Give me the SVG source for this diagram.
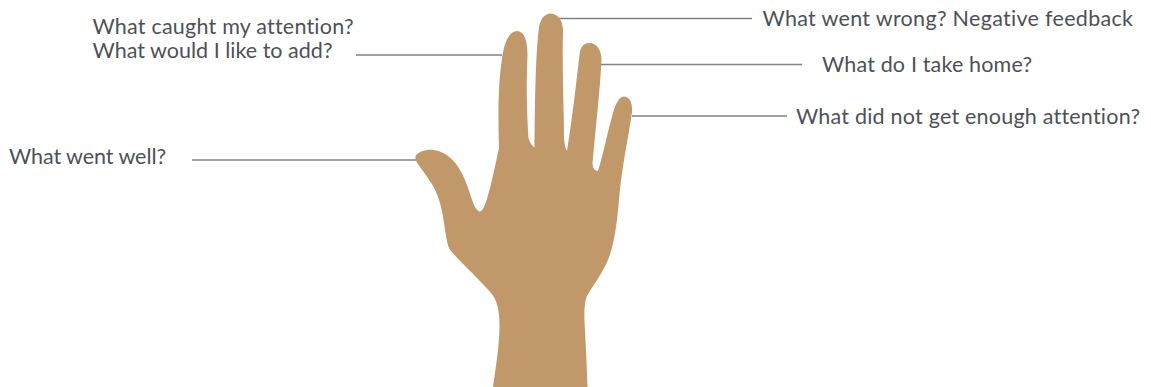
<svg xmlns="http://www.w3.org/2000/svg" width="1151" height="387" viewBox="0 0 1151 387">
<style>
.l{stroke:#7f8285;stroke-width:1.3;fill:none}
text{font-family:"Lato","Noto Sans",sans-serif;font-size:21.5px;fill:#4d5156;font-variant-ligatures:none}
</style>
<rect width="1151" height="387" fill="#fff"/>
<g id="connectors">
<path class="l" d="M356 55H502"/>
<path class="l" d="M559 18.500H752"/>
<path class="l" d="M600 64.500H802"/>
<path class="l" d="M632 116H787"/>
<path class="l" d="M192 160H417"/>
</g>
<g id="hand"><path fill="#c1986a" d="M415.500 156C419 151 427 149 434 150C448 152 458 163 465 180C471 194 474 211 480 211.500C486 211 492 180 499 148C498 110 498 85 502.500 55C505 40 510 31 517 31C524 31 527.500 40 527.500 55C526 85 527 115 528.500 138C530 143 532 146 534.500 147.500C535 110 535 60 539 27C541 17 546 13.500 551 13.500C558 14 562.500 20 563 30C562 70 564 110 564 138C564.500 144 565.500 149 567 151C572 120 576 85 579.500 55C580 47 584 43 589 43C597 43 601.500 50 601.500 60C600 90 596 125 592.500 163C592.500 168 595 171 598 171C603 155 608 130 613 113C616 102 620 96.500 624 96.500C630 97 632.500 103 632 112C628 140 622 165 619 200C616 235 612 255 603 270C597 281 590 290 586.500 297C584 305 584 315 585 330C586 350 587 370 587.500 387H493C496 365 499.500 345 499.500 325C499.500 310 497 300 491 293C478 278 462 264 451 251C447 246 447 240 445 230C443 215 441 203 436 192C431 180 421 170 415.500 160Z"/></g>
<g id="n1"><text x="92.500" y="34" textLength="261">What caught my attention?</text><text x="92.500" y="57.500" textLength="240">What would I like to add?</text></g>
<g id="n2"><text x="762.500" y="26" textLength="370.500">What went wrong? Negative feedback</text></g>
<g id="n3"><text x="822" y="72" textLength="210">What do I take home?</text></g>
<g id="n4"><text x="796" y="124" textLength="344">What did not get enough attention?</text></g>
<g id="n5"><text x="9" y="164" textLength="157">What went well?</text></g>
</svg>
